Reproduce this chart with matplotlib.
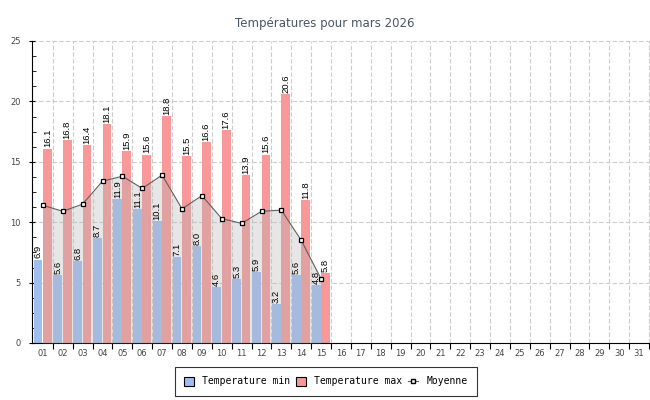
import matplotlib
matplotlib.use("Agg")
import matplotlib.pyplot as plt
import numpy as np
from matplotlib.patches import Patch
from matplotlib.lines import Line2D
from matplotlib.ticker import MultipleLocator

days = ["%02d" % d for d in range(1, 32)]
tmin = [6.9, 5.6, 6.8, 8.7, 11.9, 11.1, 10.1, 7.1, 8.0, 4.6, 5.3, 5.9, 3.2, 5.6, 4.8]
tmax = [16.1, 16.8, 16.4, 18.1, 15.9, 15.6, 18.8, 15.5, 16.6, 17.6, 13.9, 15.6, 20.6, 11.8, 5.8]
tavg = [11.4, 10.9, 11.5, 13.4, 13.8, 12.8, 13.9, 11.1, 12.2, 10.3, 9.9, 10.9, 11.0, 8.5, 5.3]

BLUE = "#9ebef0"
RED = "#f89898"

fig = plt.figure(figsize=(6.5, 4), dpi=100)
ax = fig.add_axes([32/650, 1-343/400, 617/650, 302/400])

n = len(tmin)
x = np.arange(n)
bw = 0.44
ax.bar(x - 0.47, tmin, width=bw, align="edge", color=BLUE, zorder=2, linewidth=0)
ax.bar(x + 0.0, tmax, width=bw, align="edge", color=RED, zorder=2, linewidth=0)

ax.fill_between(x, tavg, 0, color="#b4b4b4", alpha=0.33, zorder=3, linewidth=0)
ax.plot(x, tavg, color="#606060", lw=0.8, zorder=4,
        marker="s", markersize=3.3, markerfacecolor="white",
        markeredgecolor="black", markeredgewidth=0.9)

lab_font = dict(fontsize=6.8, family=["Liberation Sans Narrow", "Liberation Sans"],
                color="black", zorder=5, rotation=90, ha="center", va="bottom")
for i in range(n):
    ax.text(i - 0.47 + bw/2, tmin[i] + 0.1, "%.1f" % tmin[i], **lab_font)
    ax.text(i + bw/2, tmax[i] + 0.1, "%.1f" % tmax[i], **lab_font)

ax.set_xlim(-0.55, 30.5)
ax.set_ylim(0, 25)

ax.set_xticks(np.arange(31))
ax.set_xticklabels(days, fontsize=6, color="#444444")
ax.set_xticks(np.arange(31) + 0.5, minor=True)
ax.tick_params(axis="x", which="major", length=0, pad=4)
ax.tick_params(axis="x", which="minor", length=4, width=0.8, color="black", direction="out")

ax.yaxis.set_major_locator(MultipleLocator(5))
ax.yaxis.set_minor_locator(MultipleLocator(1.25))
ax.tick_params(axis="y", which="major", labelsize=6, labelcolor="#444444", length=4,
               width=0.8, direction="inout", pad=6)
ax.tick_params(axis="y", which="minor", length=3, width=0.6, direction="in")

for s in ["top", "right"]:
    ax.spines[s].set_visible(False)
ax.spines["left"].set_linewidth(0.8)
ax.spines["bottom"].set_linewidth(0.8)

for yv in [5, 10, 15, 20, 25]:
    ax.axhline(yv, color="#cccccc", lw=0.8, ls=(0, (4, 2)), zorder=1, clip_on=False)
for xv in np.arange(31) + 0.5:
    ax.axvline(xv, color="#cccccc", lw=0.8, ls=(0, (4, 2)), zorder=1, clip_on=False)

fig.text(0.5, 1-24/400, "Températures pour mars 2026", ha="center", va="center",
         fontsize=8.5, color="#4a5468")

handles = [Patch(facecolor=BLUE, edgecolor="black", linewidth=0.8),
           Patch(facecolor=RED, edgecolor="black", linewidth=0.8),
           Line2D([0], [0], color="#606060", lw=0.8, marker="s", markersize=3,
                  markerfacecolor="white", markeredgecolor="black")]
leg = fig.legend(handles, ["Temperature min", "Temperature max", "Moyenne"],
                 loc="center", bbox_to_anchor=(326/650, 1-381.5/400), ncol=3,
                 prop={"family": "DejaVu Sans Mono", "size": 7}, frameon=True,
                 fancybox=False, edgecolor="black", handlelength=1.0,
                 handleheight=1.0, handletextpad=0.85, columnspacing=0.6,
                 borderpad=0.95, borderaxespad=0)
leg.get_frame().set_linewidth(0.8)

fig.savefig("out.png", dpi=100)
